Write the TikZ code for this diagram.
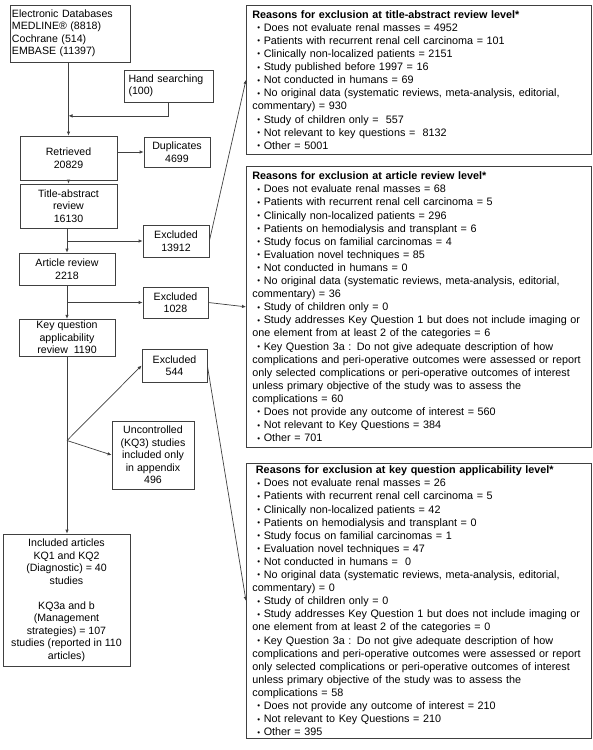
\documentclass[tikz,border=0pt]{standalone}
\usepackage{fontspec}
\setmainfont{Liberation Sans}
\usetikzlibrary{arrows.meta}
\definecolor{linecol}{gray}{0.25}
\newcommand\flowfont{\fontsize{10.6}{12.5}\selectfont}
\newcommand\reasonfont{\fontsize{10.8}{13.1}\selectfont}
\newcommand\bul{\hspace*{5pt}\raisebox{0.6pt}{\fontsize{8}{8}\selectfont\textbullet}\ }
\tikzset{flow box/.style={draw=linecol,line width=0.7pt,align=center,inner sep=2pt,font=\flowfont},
  reason box/.style={draw=linecol,line width=0.7pt,align=left,anchor=north west,text width=333pt,inner xsep=6pt,inner ysep=2pt,font=\reasonfont},
  flow arrow/.style={draw=linecol,line width=0.7pt,-{Latex[length=4pt,width=3.5pt]}},
}

\begin{document}
\begin{tikzpicture}[x=1pt,y=-1pt]
		\useasboundingbox (0,0) rectangle (593,750);
		% left column
		\node[flow box,minimum width=120pt,minimum height=57pt,text width=116pt,align=left] (db) at (70,33.5)
		  {Electronic Databases\\MEDLINE\textregistered{} (8818)\\Cochrane (514)\\EMBASE (11397)};
		\node[flow box,minimum width=89pt,minimum height=32pt,text width=80pt,align=left] (hand) at (168.5,86)
		  {Hand searching\\(100)};
		\node[flow box,minimum width=97pt,minimum height=44pt] (ret) at (68.5,158) {Retrieved\\20829};
		\node[flow box,minimum width=66pt,minimum height=30pt] (dup) at (177,152) {Duplicates\\4699};
		\node[flow box,minimum width=97pt,minimum height=44pt] (tar) at (68.5,206) {Title-abstract\\review\\16130};
		\node[flow box,minimum width=66pt,minimum height=32pt] (ex1) at (176,241) {Excluded\\13912};
		\node[flow box,minimum width=96pt,minimum height=32pt] (art) at (67,269) {Article review\\2218};
		\node[flow box,minimum width=65pt,minimum height=31pt] (ex2) at (175.5,302.5) {Excluded\\1028};
		\node[flow box,minimum width=96pt,minimum height=35pt] (kq) at (67,337.5) {Key question\\applicability\\review\ \ 1190};
		\node[flow box,minimum width=65pt,minimum height=33pt] (ex3) at (174.5,365.5) {Excluded\\544};
		\node[flow box,minimum width=82pt,minimum height=68pt] (unc) at (153,455)
		  {Uncontrolled\\(KQ3) studies\\included only\\in appendix\\496};
		\node[flow box,minimum width=127pt,minimum height=132pt] (inc) at (66.5,600)
		  {Included articles\\KQ1 and KQ2\\(Diagnostic) = 40\\studies\\[12.5pt]KQ3a and b\\(Management\\strategies) = 107\\studies (reported in 110\\articles)};
		
		% reasons
		\node[reason box,minimum height=149pt] (why1) at (246,5) {\textbf{Reasons for exclusion at title-abstract review level*}\\
		  \bul Does not evaluate renal masses = 4952\\
		  \bul Patients with recurrent renal cell carcinoma = 101\\
		  \bul Clinically non-localized patients = 2151\\
		  \bul Study published before 1997 = 16\\
		  \bul Not conducted in humans = 69\\
		  \bul No original data (systematic reviews, meta-analysis, editorial,\\
		  commentary) = 930\\
		  \bul Study of children only = \ 557\\
		  \bul Not relevant to key questions = \ 8132\\
		  \bul Other = 5001};
		\node[reason box,minimum height=281pt] (why2) at (246,166) {\textbf{Reasons for exclusion at article review level*}\\
		  \bul Does not evaluate renal masses = 68\\
		  \bul Patients with recurrent renal cell carcinoma = 5\\
		  \bul Clinically non-localized patients = 296\\
		  \bul Patients on hemodialysis and transplant = 6\\
		  \bul Study focus on familial carcinomas = 4\\
		  \bul Evaluation novel techniques = 85\\
		  \bul Not conducted in humans = 0\\
		  \bul No original data (systematic reviews, meta-analysis, editorial,\\
		  commentary) = 36\\
		  \bul Study of children only = 0\\
		  \bul Study addresses Key Question 1 but does not include imaging or\\
		  one element from at least 2 of the categories = 6\\
		  \bul Key Question 3a : Do not give adequate description of how\\
		  complications and peri-operative outcomes were assessed or report\\
		  only selected complications or peri-operative outcomes of interest\\
		  unless primary objective of the study was to assess the\\
		  complications = 60\\
		  \bul Does not provide any outcome of interest = 560\\
		  \bul Not relevant to Key Questions = 384\\
		  \bul Other = 701};
		\node[reason box,minimum height=275pt] (why3) at (246,463) {\textbf{\ Reasons for exclusion at key question applicability level*}\\
		  \bul Does not evaluate renal masses = 26\\
		  \bul Patients with recurrent renal cell carcinoma = 5\\
		  \bul Clinically non-localized patients = 42\\
		  \bul Patients on hemodialysis and transplant = 0\\
		  \bul Study focus on familial carcinomas = 1\\
		  \bul Evaluation novel techniques = 47\\
		  \bul Not conducted in humans = \ 0\\
		  \bul No original data (systematic reviews, meta-analysis, editorial,\\
		  commentary) = 0\\
		  \bul Study of children only = 0\\
		  \bul Study addresses Key Question 1 but does not include imaging or\\
		  one element from at least 2 of the categories = 0\\
		  \bul Key Question 3a : Do not give adequate description of how\\
		  complications and peri-operative outcomes were assessed or report\\
		  only selected complications or peri-operative outcomes of interest\\
		  unless primary objective of the study was to assess the\\
		  complications = 58\\
		  \bul Does not provide any outcome of interest = 210\\
		  \bul Not relevant to Key Questions = 210\\
		  \bul Other = 395};
		
		% connectors
		\path (ret.north |- db.south) -- (ret.north) coordinate[pos=0.73] (join);
		\path (kq.south) -- (kq.south |- inc.north) coordinate[pos=0.475] (split);
		\draw[flow arrow] (ret.north |- db.south) -- (ret.north);
		\draw[flow arrow] (hand.south) |- (join);
		\draw[flow arrow] (ret.east |- dup.west) -- (dup.west);
		\draw[flow arrow] (ret.south) -- (tar.north);
		\draw[flow arrow] (tar.south -| art.north) -- (art.north);
		\draw[flow arrow] (art.north |- ex1.west) -- (ex1.west);
		\draw[flow arrow] (art.south) -- (kq.north);
		\draw[flow arrow] (kq.north |- ex2.west) -- (ex2.west);
		\draw[flow arrow] (kq.south) -- (kq.south |- inc.north);
		\draw[flow arrow] (split) -- (ex3.west);
		\draw[flow arrow] (split) -- (unc.west);
		\draw[flow arrow] (ex1.east) -- (why1.west);
		\draw[flow arrow] (ex2.east) -- (why2.west);
		\draw[flow arrow] (ex3.east) -- (why3.west);
		
\end{tikzpicture}
\end{document}
